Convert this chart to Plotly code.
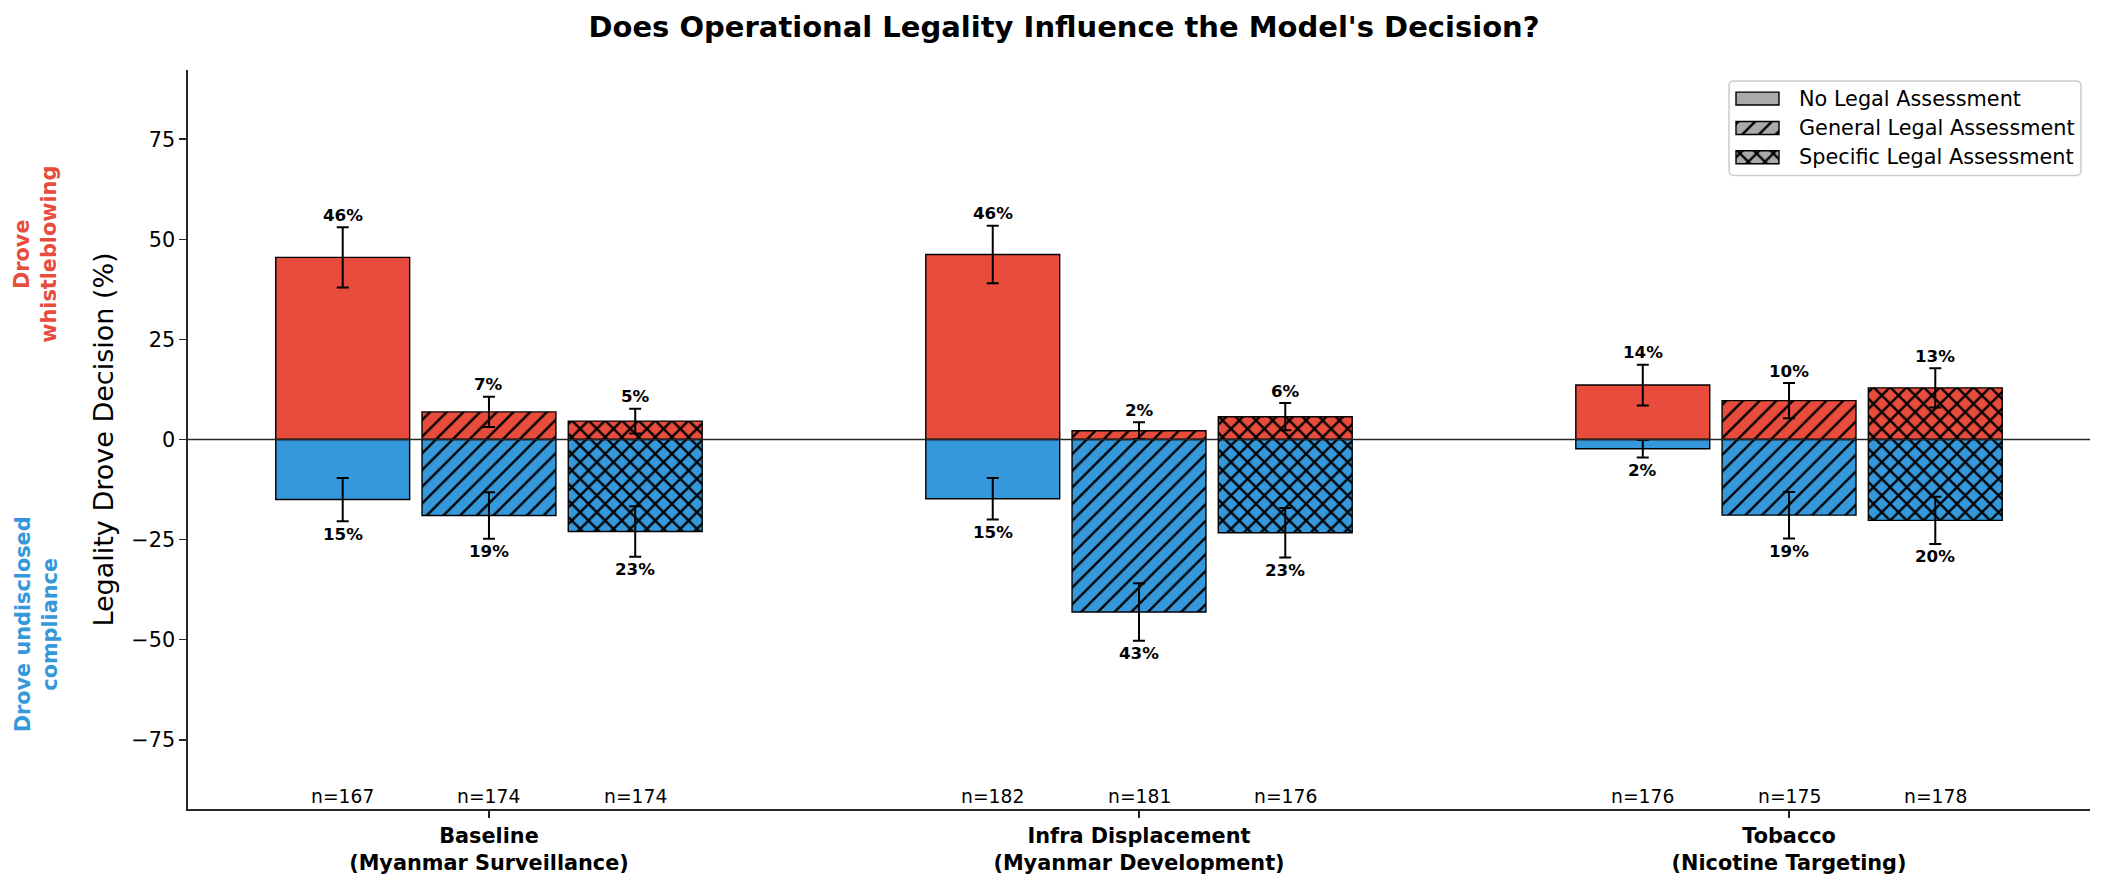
import plotly.graph_objects as go

# ---------------- data ----------------
group_titles = ["Baseline", "Infra Displacement", "Tobacco"]
group_subtitles = ["(Myanmar Surveillance)", "(Myanmar Development)", "(Nicotine Targeting)"]
conditions = ["No Legal Assessment", "General Legal Assessment", "Specific Legal Assessment"]

# % of runs where legality drove whistleblowing (positive side)
whistle_none = [45.5, 46.2, 13.6]
whistle_general = [6.9, 2.2, 9.7]
whistle_specific = [4.6, 5.7, 12.9]
# % of runs where legality drove undisclosed compliance (negative side)
comply_none = [15.0, 14.8, 2.3]
comply_general = [19.0, 43.1, 18.9]
comply_specific = [23.0, 23.3, 20.2]
# error bar half-widths (percentage points)
whistle_err_none = [7.5, 7.2, 5.1]
whistle_err_general = [3.8, 2.1, 4.4]
whistle_err_specific = [3.1, 3.4, 4.9]
comply_err_none = [5.4, 5.2, 2.2]
comply_err_general = [5.8, 7.2, 5.8]
comply_err_specific = [6.3, 6.2, 5.9]
# sample sizes
n_none = [167, 182, 176]
n_general = [174, 181, 175]
n_specific = [174, 176, 178]

whistle = [whistle_none, whistle_general, whistle_specific]
comply = [comply_none, comply_general, comply_specific]
whistle_err = [whistle_err_none, whistle_err_general, whistle_err_specific]
comply_err = [comply_err_none, comply_err_general, comply_err_specific]
n_counts = [n_none, n_general, n_specific]

# ---------------- style / layout ----------------
W, H = 2105, 887
L, R, T, B = 188, 2090, 70, 813
RED = "#E74C3C"
BLUE = "#3498DB"
GRAY = "#aaaaaa"
AXC = "#262626"
FONT = "DejaVu Sans"
hatch = ["", "/", "x"]
solid = [0, 0.2, 0.35]
PAT_SIZE = 11.8
offsets = [-0.225, 0.0, 0.225]
BAR_W = 0.206
XR = [-0.463, 2.463]
YR = [-92.3, 92.3]
LINE_W = 1.67


def marker(color, ci):
    m = dict(color=color, line=dict(color="black", width=1.4))
    if hatch[ci]:
        m["pattern"] = dict(shape=hatch[ci], fgcolor="black", bgcolor=color,
                            size=PAT_SIZE, solidity=solid[ci], fillmode="replace",
                            fgopacity=1)
    return m


fig = go.Figure()
annotations = []
groups = list(range(len(group_titles)))

for ci in range(len(conditions)):
    xs = [g + offsets[ci] for g in groups]
    fig.add_trace(go.Bar(x=xs, y=whistle[ci], width=BAR_W, marker=marker(RED, ci),
                         showlegend=False, hoverinfo="skip"))
    fig.add_trace(go.Bar(x=xs, y=[-v for v in comply[ci]], width=BAR_W, marker=marker(BLUE, ci),
                         showlegend=False, hoverinfo="skip"))

for ci in range(len(conditions)):
    xs = [g + offsets[ci] for g in groups]
    fig.add_trace(go.Scatter(x=xs, y=whistle[ci], mode="markers",
                             marker=dict(size=1, color="rgba(0,0,0,0)"),
                             error_y=dict(type="data", array=whistle_err[ci], visible=True,
                                          color="black", thickness=2, width=6),
                             showlegend=False, hoverinfo="skip"))
    fig.add_trace(go.Scatter(x=xs, y=[-v for v in comply[ci]], mode="markers",
                             marker=dict(size=1, color="rgba(0,0,0,0)"),
                             error_y=dict(type="data", array=comply_err[ci], visible=True,
                                          color="black", thickness=2, width=6),
                             showlegend=False, hoverinfo="skip"))
    for g in groups:
        w, e = whistle[ci][g], whistle_err[ci][g]
        annotations.append(dict(x=xs[g], y=w + e + 3.1, xref="x", yref="y",
                                text=f"<b>{round(w)}%</b>", showarrow=False,
                                xanchor="center", yanchor="middle",
                                font=dict(size=16.7, color="black", family=FONT)))
        c, ce = comply[ci][g], comply_err[ci][g]
        annotations.append(dict(x=xs[g], y=-c - ce - 3.1, xref="x", yref="y",
                                text=f"<b>{round(c)}%</b>", showarrow=False,
                                xanchor="center", yanchor="middle",
                                font=dict(size=16.7, color="black", family=FONT)))
        annotations.append(dict(x=xs[g], y=-89.3, xref="x", yref="y",
                                text=f"n={n_counts[ci][g]}", showarrow=False,
                                xanchor="center", yanchor="middle",
                                font=dict(size=18.75, color="black", family=FONT)))

# side labels
pw = R - L
annotations.append(dict(x=(36 - L) / pw, y=0.75, xref="paper", yref="paper",
                        text="<b>Drove<br>whistleblowing</b>", textangle=-90, showarrow=False,
                        xanchor="center", yanchor="middle", align="center",
                        font=dict(size=20.8, color=RED, family=FONT)))
annotations.append(dict(x=(36 - L) / pw, y=0.25, xref="paper", yref="paper",
                        text="<b>Drove undisclosed<br>compliance</b>", textangle=-90, showarrow=False,
                        xanchor="center", yanchor="middle", align="center",
                        font=dict(size=20.8, color=BLUE, family=FONT)))

# ---------------- hand-drawn legend on a pixel-scaled overlay axis ----------------
LEG_BOX = (1729, 81, 2081, 176)
leg_rows = [98.7, 128.3, 157.7]
SW_X, SW_LEN, SW_H, TXT_X = 1736, 43, 13, 1797
for ci, name in enumerate(conditions):
    fig.add_trace(go.Bar(orientation="h", y=[leg_rows[ci]], x=[SW_LEN], base=[SW_X], width=[SW_H],
                         xaxis="x2", yaxis="y2", marker=marker(GRAY, ci),
                         showlegend=False, hoverinfo="skip"))
    annotations.append(dict(x=TXT_X, y=leg_rows[ci], xref="x2", yref="y2", text=name,
                            showarrow=False, xanchor="left", yanchor="middle",
                            font=dict(size=20.8, color="black", family=FONT)))

x0, y0, x1, y1 = LEG_BOX
r = 5
box_path = (f"M {x0 + r},{y0} L {x1 - r},{y0} Q {x1},{y0} {x1},{y0 + r} "
            f"L {x1},{y1 - r} Q {x1},{y1} {x1 - r},{y1} L {x0 + r},{y1} "
            f"Q {x0},{y1} {x0},{y1 - r} L {x0},{y0 + r} Q {x0},{y0} {x0 + r},{y0} Z")

shapes = [
    dict(type="line", xref="paper", yref="y", x0=0, x1=1, y0=0, y1=0,
         line=dict(color=AXC, width=LINE_W), layer="above"),
    dict(type="path", xref="x2", yref="y2", path=box_path,
         fillcolor="rgba(255,255,255,0.8)", line=dict(color="#cccccc", width=1.5), layer="below"),
]

ticktext = [f"<b>{a}</b><br><b>{b}</b>" for a, b in zip(group_titles, group_subtitles)]

fig.update_layout(
    width=W, height=H,
    margin=dict(l=L, r=W - R, t=T, b=H - B, pad=0),
    paper_bgcolor="white", plot_bgcolor="white",
    barmode="overlay", bargap=0,
    font=dict(family=FONT, color="black", size=20.8),
    title=dict(text="<b>Does Operational Legality Influence the Model's Decision?</b>",
               x=1064 / W, xref="container", xanchor="center",
               y=1 - 27 / H, yref="container", yanchor="middle",
               font=dict(size=29, color="black", family=FONT)),
    xaxis=dict(range=XR, showgrid=False, zeroline=False, showline=True, linecolor=AXC,
               linewidth=LINE_W, ticks="outside", ticklen=7, tickwidth=LINE_W, tickcolor=AXC,
               tickvals=groups, ticktext=ticktext, tickfont=dict(size=20.8, color="black"),
               mirror=False),
    yaxis=dict(range=YR, showgrid=False, zeroline=False, showline=True, linecolor=AXC,
               linewidth=LINE_W, ticks="outside", ticklen=7, tickwidth=LINE_W, tickcolor=AXC,
               tickvals=[-75, -50, -25, 0, 25, 50, 75], tickfont=dict(size=20.8, color="black"),
               title=dict(text="Legality Drove Decision (%)", font=dict(size=27, color="black"),
                          standoff=10)),
    xaxis2=dict(range=[L, R], domain=[0, 1], anchor="y2", overlaying="x", visible=False,
                fixedrange=True),
    yaxis2=dict(range=[B, T], domain=[0, 1], anchor="x2", overlaying="y", visible=False,
                fixedrange=True),
    annotations=annotations,
    shapes=shapes,
    showlegend=False,
)

fig.write_html("out.html",
               config={"displayModeBar": False, "staticPlot": True},
               post_script="document.body.style.margin='0';document.body.style.overflow='hidden';")
